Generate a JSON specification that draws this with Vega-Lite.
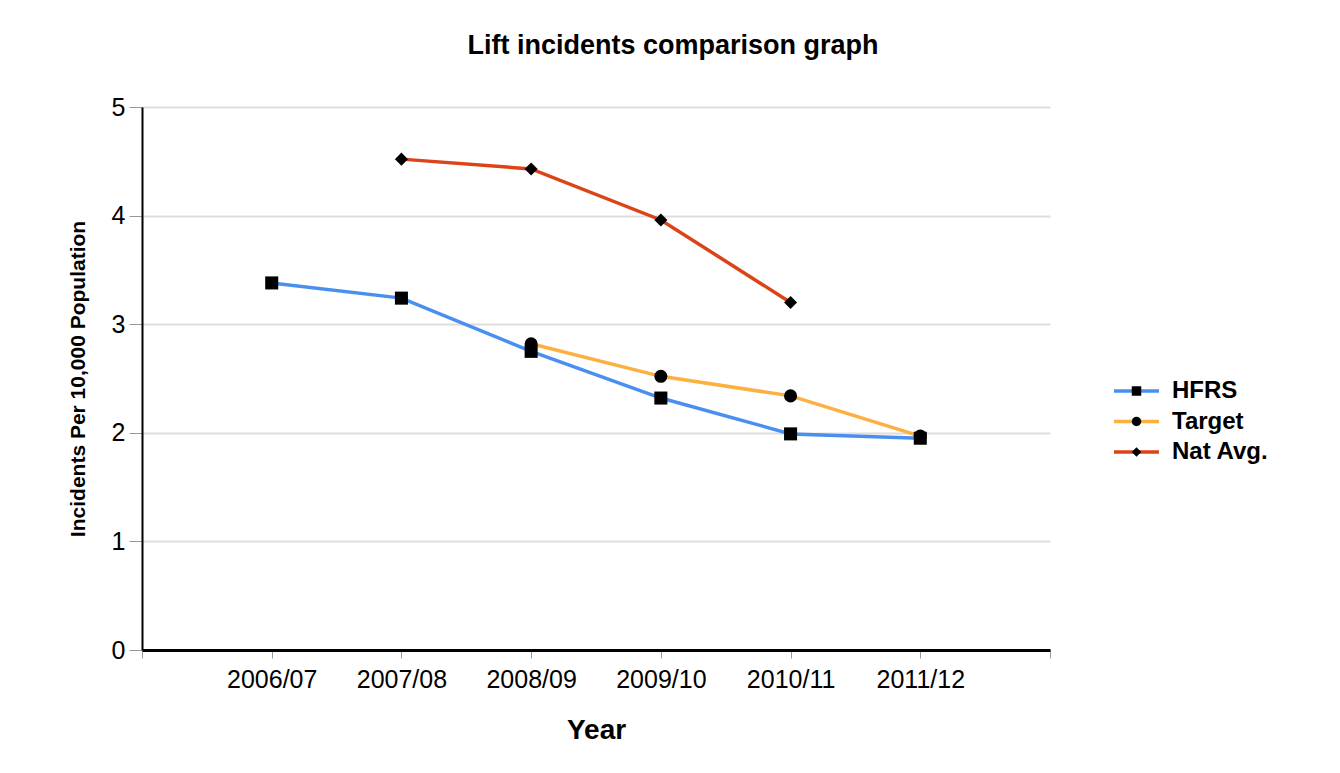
{
  "$schema": "https://vega.github.io/schema/vega-lite/v6.json",
  "width": 908,
  "height": 543,
  "autosize": "none",
  "padding": {"left": 142, "top": 107, "right": 290, "bottom": 123},
  "background": "white",
  "config": {
    "font": "Liberation Sans",
    "view": {"stroke": null}
  },
  "title": {
    "text": "Lift incidents comparison graph",
    "fontSize": 27,
    "fontWeight": "bold",
    "color": "black",
    "anchor": "middle",
    "frame": "group",
    "dx": 77,
    "offset": 35
  },
  "data": {
    "values": [
      {"year": "2006/07", "series": "HFRS", "value": 3.38},
      {"year": "2007/08", "series": "HFRS", "value": 3.24},
      {"year": "2008/09", "series": "HFRS", "value": 2.75},
      {"year": "2009/10", "series": "HFRS", "value": 2.32},
      {"year": "2010/11", "series": "HFRS", "value": 1.99},
      {"year": "2011/12", "series": "HFRS", "value": 1.95},
      {"year": "2008/09", "series": "Target", "value": 2.82},
      {"year": "2009/10", "series": "Target", "value": 2.52},
      {"year": "2010/11", "series": "Target", "value": 2.34},
      {"year": "2011/12", "series": "Target", "value": 1.97},
      {"year": "2007/08", "series": "Nat Avg.", "value": 4.52},
      {"year": "2008/09", "series": "Nat Avg.", "value": 4.43},
      {"year": "2009/10", "series": "Nat Avg.", "value": 3.96},
      {"year": "2010/11", "series": "Nat Avg.", "value": 3.2}
    ]
  },
  "encoding": {
    "x": {
      "field": "year",
      "type": "nominal",
      "sort": null,
      "scale": {"type": "point", "domain": [" ", "2006/07", "2007/08", "2008/09", "2009/10", "2010/11", "2011/12", "  "], "padding": 0},
      "axis": {
        "title": "Year",
        "titleFontSize": 28,
        "titleFontWeight": "bold",
        "titleColor": "black",
        "titlePadding": 24,
        "labelFontSize": 25,
        "labelColor": "black",
        "labelAngle": 0,
        "labelPadding": 9,
        "domainColor": "black",
        "domainWidth": 3,
        "tickColor": "#999999",
        "tickSize": 8,
        "tickWidth": 1,
        "grid": false
      }
    },
    "y": {
      "field": "value",
      "type": "quantitative",
      "scale": {"domain": [0, 5], "nice": false},
      "axis": {
        "title": "Incidents Per 10,000 Population",
        "titleFontSize": 21,
        "titleFontWeight": "bold",
        "titleColor": "black",
        "titlePadding": 23,
        "values": [0, 1, 2, 3, 4, 5],
        "labelFontSize": 25,
        "labelColor": "black",
        "labelPadding": 4,
        "domainColor": "black",
        "domainWidth": 2,
        "tickColor": "#999999",
        "tickSize": 13,
        "tickWidth": 1,
        "grid": true,
        "gridColor": "#dddddd",
        "gridWidth": 2
      }
    }
  },
  "layer": [
    {
      "mark": {"type": "line", "strokeWidth": 3.5},
      "encoding": {
        "color": {
          "field": "series",
          "type": "nominal",
          "scale": {"domain": ["HFRS", "Target", "Nat Avg."], "range": ["#4a8ff0", "#fbb040", "#dc4316"]},
          "legend": {
            "title": null,
            "orient": "none",
            "legendX": 982.5,
            "legendY": 272,
            "symbolType": "M-4.74,0L4.74,0",
            "symbolSize": 90,
            "symbolStrokeWidth": 3.5,
            "labelFontSize": 24,
            "labelFontWeight": "bold",
            "labelColor": "black",
            "labelOffset": 23.5,
            "rowPadding": 6.5,
            "zindex": 0
          }
        }
      }
    },
    {
      "mark": {"type": "point", "filled": true, "color": "black", "opacity": 1, "size": 170},
      "encoding": {
        "shape": {
          "field": "series",
          "type": "nominal",
          "sort": ["HFRS", "Target", "Nat Avg."],
          "scale": {"range": ["square", "circle", "diamond"]},
          "legend": {
            "title": null,
            "orient": "none",
            "legendX": 982.5,
            "legendY": 272,
            "symbolFillColor": "black",
            "symbolStrokeColor": "black",
            "symbolSize": 90,
            "labelFontSize": 24,
            "labelFontWeight": "bold",
            "labelOpacity": 0,
            "labelOffset": 23.5,
            "rowPadding": 6.5,
            "zindex": 1
          }
        }
      }
    }
  ]
}
